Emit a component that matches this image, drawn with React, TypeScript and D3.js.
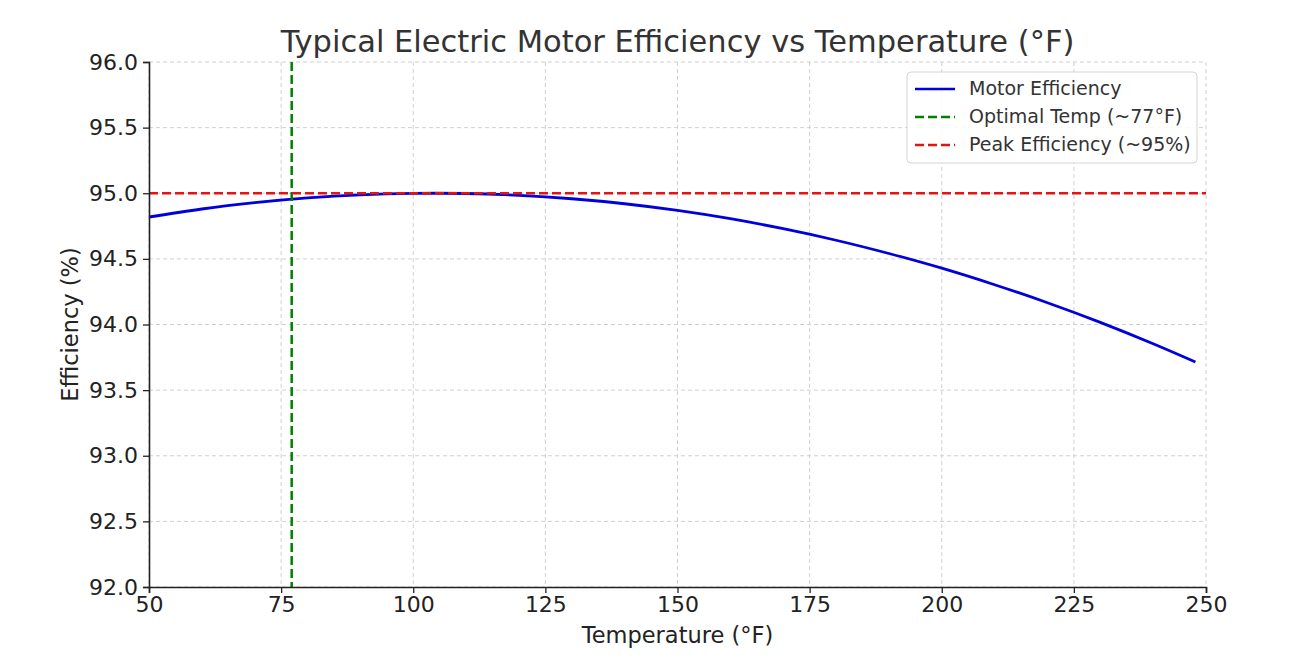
import React, { useEffect, useRef } from 'react';
import * as d3 from 'd3';

// Efficiency curve, read at 10 °F steps
const temps = [50, 60, 70, 80, 90, 100, 110, 120, 130, 140, 150, 160, 170, 180, 190, 200, 210, 220, 230, 240, 248];
const efficiency = [94.819, 94.88, 94.928, 94.964, 94.988, 94.999, 94.998, 94.984, 94.958, 94.92, 94.869, 94.806, 94.73, 94.642, 94.541, 94.429, 94.303, 94.166, 94.016, 93.853, 93.714];

const xTicks = [50, 75, 100, 125, 150, 175, 200, 225, 250];
const yTicks = [92.0, 92.5, 93.0, 93.5, 94.0, 94.5, 95.0, 95.5, 96.0];

const optimalTemp = 77;
const peakEfficiency = 95;

const legendItems = [
  { label: 'Motor Efficiency', color: '#0000dd', dash: null },
  { label: 'Optimal Temp (~77°F)', color: '#008000', dash: '9,4' },
  { label: 'Peak Efficiency (~95%)', color: '#e01515', dash: '9,4' },
];

const FONT = '"DejaVu Sans", sans-serif';

export default function App() {
  const svgRef = useRef<SVGSVGElement>(null);

  useEffect(() => {
    const width = 1290;
    const height = 667;
    const margin = { top: 62, right: 84, bottom: 80, left: 149 };
    const innerW = width - margin.left - margin.right;
    const innerH = height - margin.top - margin.bottom;

    const svg = d3.select(svgRef.current).attr('width', width).attr('height', height);
    svg.selectAll('*').remove();
    svg.append('rect').attr('width', width).attr('height', height).attr('fill', '#fff');

    const g = svg.append('g').attr('transform', `translate(${margin.left},${margin.top})`);

    const x = d3.scaleLinear().domain([50, 250]).range([0, innerW]);
    const y = d3.scaleLinear().domain([92, 96]).range([innerH, 0]);

    // Grid
    g.append('g').selectAll('line').data(xTicks).join('line')
      .attr('x1', d => x(d)).attr('x2', d => x(d)).attr('y1', 0).attr('y2', innerH)
      .attr('stroke', '#d0d0d0').attr('stroke-width', 1).attr('stroke-dasharray', '4,3');
    g.append('g').selectAll('line').data(yTicks).join('line')
      .attr('x1', 0).attr('x2', innerW).attr('y1', d => y(d)).attr('y2', d => y(d))
      .attr('stroke', '#d0d0d0').attr('stroke-width', 1).attr('stroke-dasharray', '4,3');

    // Efficiency curve
    const data = temps.map((t, i) => ({ t, v: efficiency[i] }));
    const line = d3.line<{ t: number; v: number }>().x(d => x(d.t)).y(d => y(d.v)).curve(d3.curveNatural);
    g.append('path').datum(data).attr('fill', 'none').attr('stroke', '#0000dd')
      .attr('stroke-width', 2.8).attr('d', line);

    // Reference lines
    g.append('line').attr('x1', x(optimalTemp)).attr('x2', x(optimalTemp)).attr('y1', 0).attr('y2', innerH)
      .attr('stroke', '#008000').attr('stroke-width', 2.5).attr('stroke-dasharray', '9,4');
    g.append('line').attr('x1', 0).attr('x2', innerW).attr('y1', y(peakEfficiency)).attr('y2', y(peakEfficiency))
      .attr('stroke', '#e01515').attr('stroke-width', 2.5).attr('stroke-dasharray', '9,4');

    // Axes
    const xAxis = g.append('g').attr('transform', `translate(0,${innerH})`)
      .call(d3.axisBottom(x).tickValues(xTicks).tickSize(6).tickPadding(3).tickFormat(d3.format('d')));
    const yAxis = g.append('g')
      .call(d3.axisLeft(y).tickValues(yTicks).tickSize(6).tickPadding(5).tickFormat(d3.format('.1f')));
    [xAxis, yAxis].forEach(ax => {
      ax.select('.domain').attr('stroke', '#222').attr('stroke-width', 1.6);
      ax.selectAll('.tick line').attr('stroke', '#222').attr('stroke-width', 1.3);
      ax.selectAll('.tick text').attr('fill', '#222').attr('font-size', '22px').attr('font-family', FONT);
    });

    // Labels
    svg.append('text').attr('x', margin.left + innerW / 2).attr('y', 52).attr('text-anchor', 'middle')
      .attr('fill', '#333').attr('font-size', '30.5px').attr('font-family', FONT)
      .text('Typical Electric Motor Efficiency vs Temperature (°F)');
    svg.append('text').attr('x', margin.left + innerW / 2).attr('y', 643).attr('text-anchor', 'middle')
      .attr('fill', '#222').attr('font-size', '22.5px').attr('font-family', FONT)
      .text('Temperature (°F)');
    svg.append('text').attr('transform', `translate(78,${margin.top + innerH / 2}) rotate(-90)`)
      .attr('text-anchor', 'middle').attr('fill', '#222').attr('font-size', '22.5px').attr('font-family', FONT)
      .text('Efficiency (%)');

    // Legend
    const lg = svg.append('g').attr('transform', 'translate(907,72)');
    lg.append('rect').attr('width', 290).attr('height', 91).attr('rx', 4)
      .attr('fill', 'rgba(255,255,255,0.85)').attr('stroke', '#d5d5d5').attr('stroke-width', 1);
    legendItems.forEach((item, i) => {
      const cy = 17 + i * 28;
      lg.append('line').attr('x1', 8).attr('x2', 48).attr('y1', cy).attr('y2', cy)
        .attr('stroke', item.color).attr('stroke-width', 2.5)
        .attr('stroke-dasharray', item.dash ?? null);
      lg.append('text').attr('x', 62).attr('y', cy + 6).attr('fill', '#333')
        .attr('font-size', '19px').attr('font-family', FONT).text(item.label);
    });
  }, []);

  return (
    <div style={{ margin: -8 }}>
      <svg ref={svgRef} style={{ display: 'block' }} />
    </div>
  );
}
